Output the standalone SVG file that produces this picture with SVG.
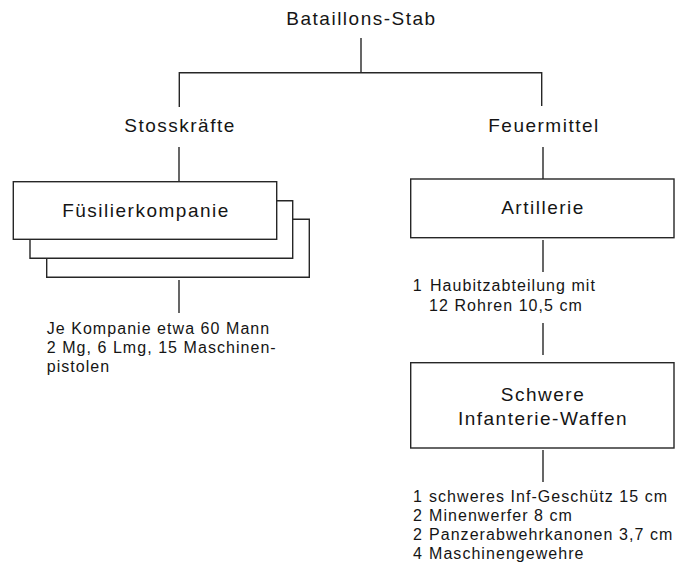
<svg xmlns="http://www.w3.org/2000/svg" width="691" height="574" viewBox="0 0 691 574">
<style>
  .ln { fill: none; stroke: #262626; stroke-width: 1.4; }
  .box { fill: #ffffff; stroke: #262626; stroke-width: 1.4; }
  .t { font-family: "Liberation Sans", Arial, sans-serif; fill: #151515; }
  .big { font-size: 19px; letter-spacing: 1.5px; text-anchor: middle; }
  .sm { font-size: 16px; letter-spacing: 1.05px; }
</style>
<rect x="0" y="0" width="691" height="574" fill="#ffffff"/>
<g id="connectors">
  <path class="ln" d="M361,38 V72.7"/>
  <path class="ln" d="M179.3,107 V72.7 H541.7 V106"/>
  <path class="ln" d="M179,147 V181"/>
  <path class="ln" d="M543,147 V179"/>
  <path class="ln" d="M543,240 V272"/>
  <path class="ln" d="M543,323 V355"/>
  <path class="ln" d="M543,450 V482"/>
  <path class="ln" d="M179,280 V313"/>
</g>
<g id="bataillons-stab">
  <text class="t big" x="361.5" y="25">Bataillons-Stab</text>
</g>
<g id="stosskraefte">
  <text class="t big" x="180" y="132">Stosskräfte</text>
</g>
<g id="feuermittel">
  <text class="t big" x="544" y="132">Feuermittel</text>
</g>
<g id="fuesilierkompanie">
  <path class="ln" d="M292.7,219.3 H309.3 V277.3 H46.7 V258.3"/>
  <path class="ln" d="M277,200.7 H292.7 V258.3 H30 V239.3"/>
  <rect class="box" x="13.3" y="181.7" width="263.4" height="57.6"/>
  <text class="t big" x="146" y="216.7">Füsilierkompanie</text>
</g>
<g id="fuesilier-info">
  <text class="t sm" x="46.7" y="334">Je Kompanie etwa 60 Mann</text>
  <text class="t sm" x="46.7" y="353">2 Mg, 6 Lmg, 15 Maschinen-</text>
  <text class="t sm" x="46.7" y="371.5">pistolen</text>
</g>
<g id="artillerie">
  <rect class="box" x="410.7" y="179" width="263.3" height="58.7"/>
  <text class="t big" x="543" y="214">Artillerie</text>
</g>
<g id="artillerie-info">
  <text class="t sm" x="412.7" y="290.7">1</text>
  <text class="t sm" x="430" y="290.7">Haubitzabteilung mit</text>
  <text class="t sm" x="429" y="310.7">12 Rohren 10,5 cm</text>
</g>
<g id="schwere-infanterie-waffen">
  <rect class="box" x="410.7" y="362.7" width="263.3" height="85.3"/>
  <text class="t big" x="543" y="400.7">Schwere</text>
  <text class="t big" x="543" y="425">Infanterie-Waffen</text>
</g>
<g id="schwere-info">
  <text class="t sm" x="413" y="501.5">1</text>
  <text class="t sm" x="429" y="501.5">schweres Inf-Geschütz 15 cm</text>
  <text class="t sm" x="413" y="520.5">2</text>
  <text class="t sm" x="429" y="520.5">Minenwerfer 8 cm</text>
  <text class="t sm" x="413" y="539.5">2</text>
  <text class="t sm" x="429" y="539.5">Panzerabwehrkanonen 3,7 cm</text>
  <text class="t sm" x="413" y="558.5">4</text>
  <text class="t sm" x="429" y="558.5">Maschinengewehre</text>
</g>
</svg>
